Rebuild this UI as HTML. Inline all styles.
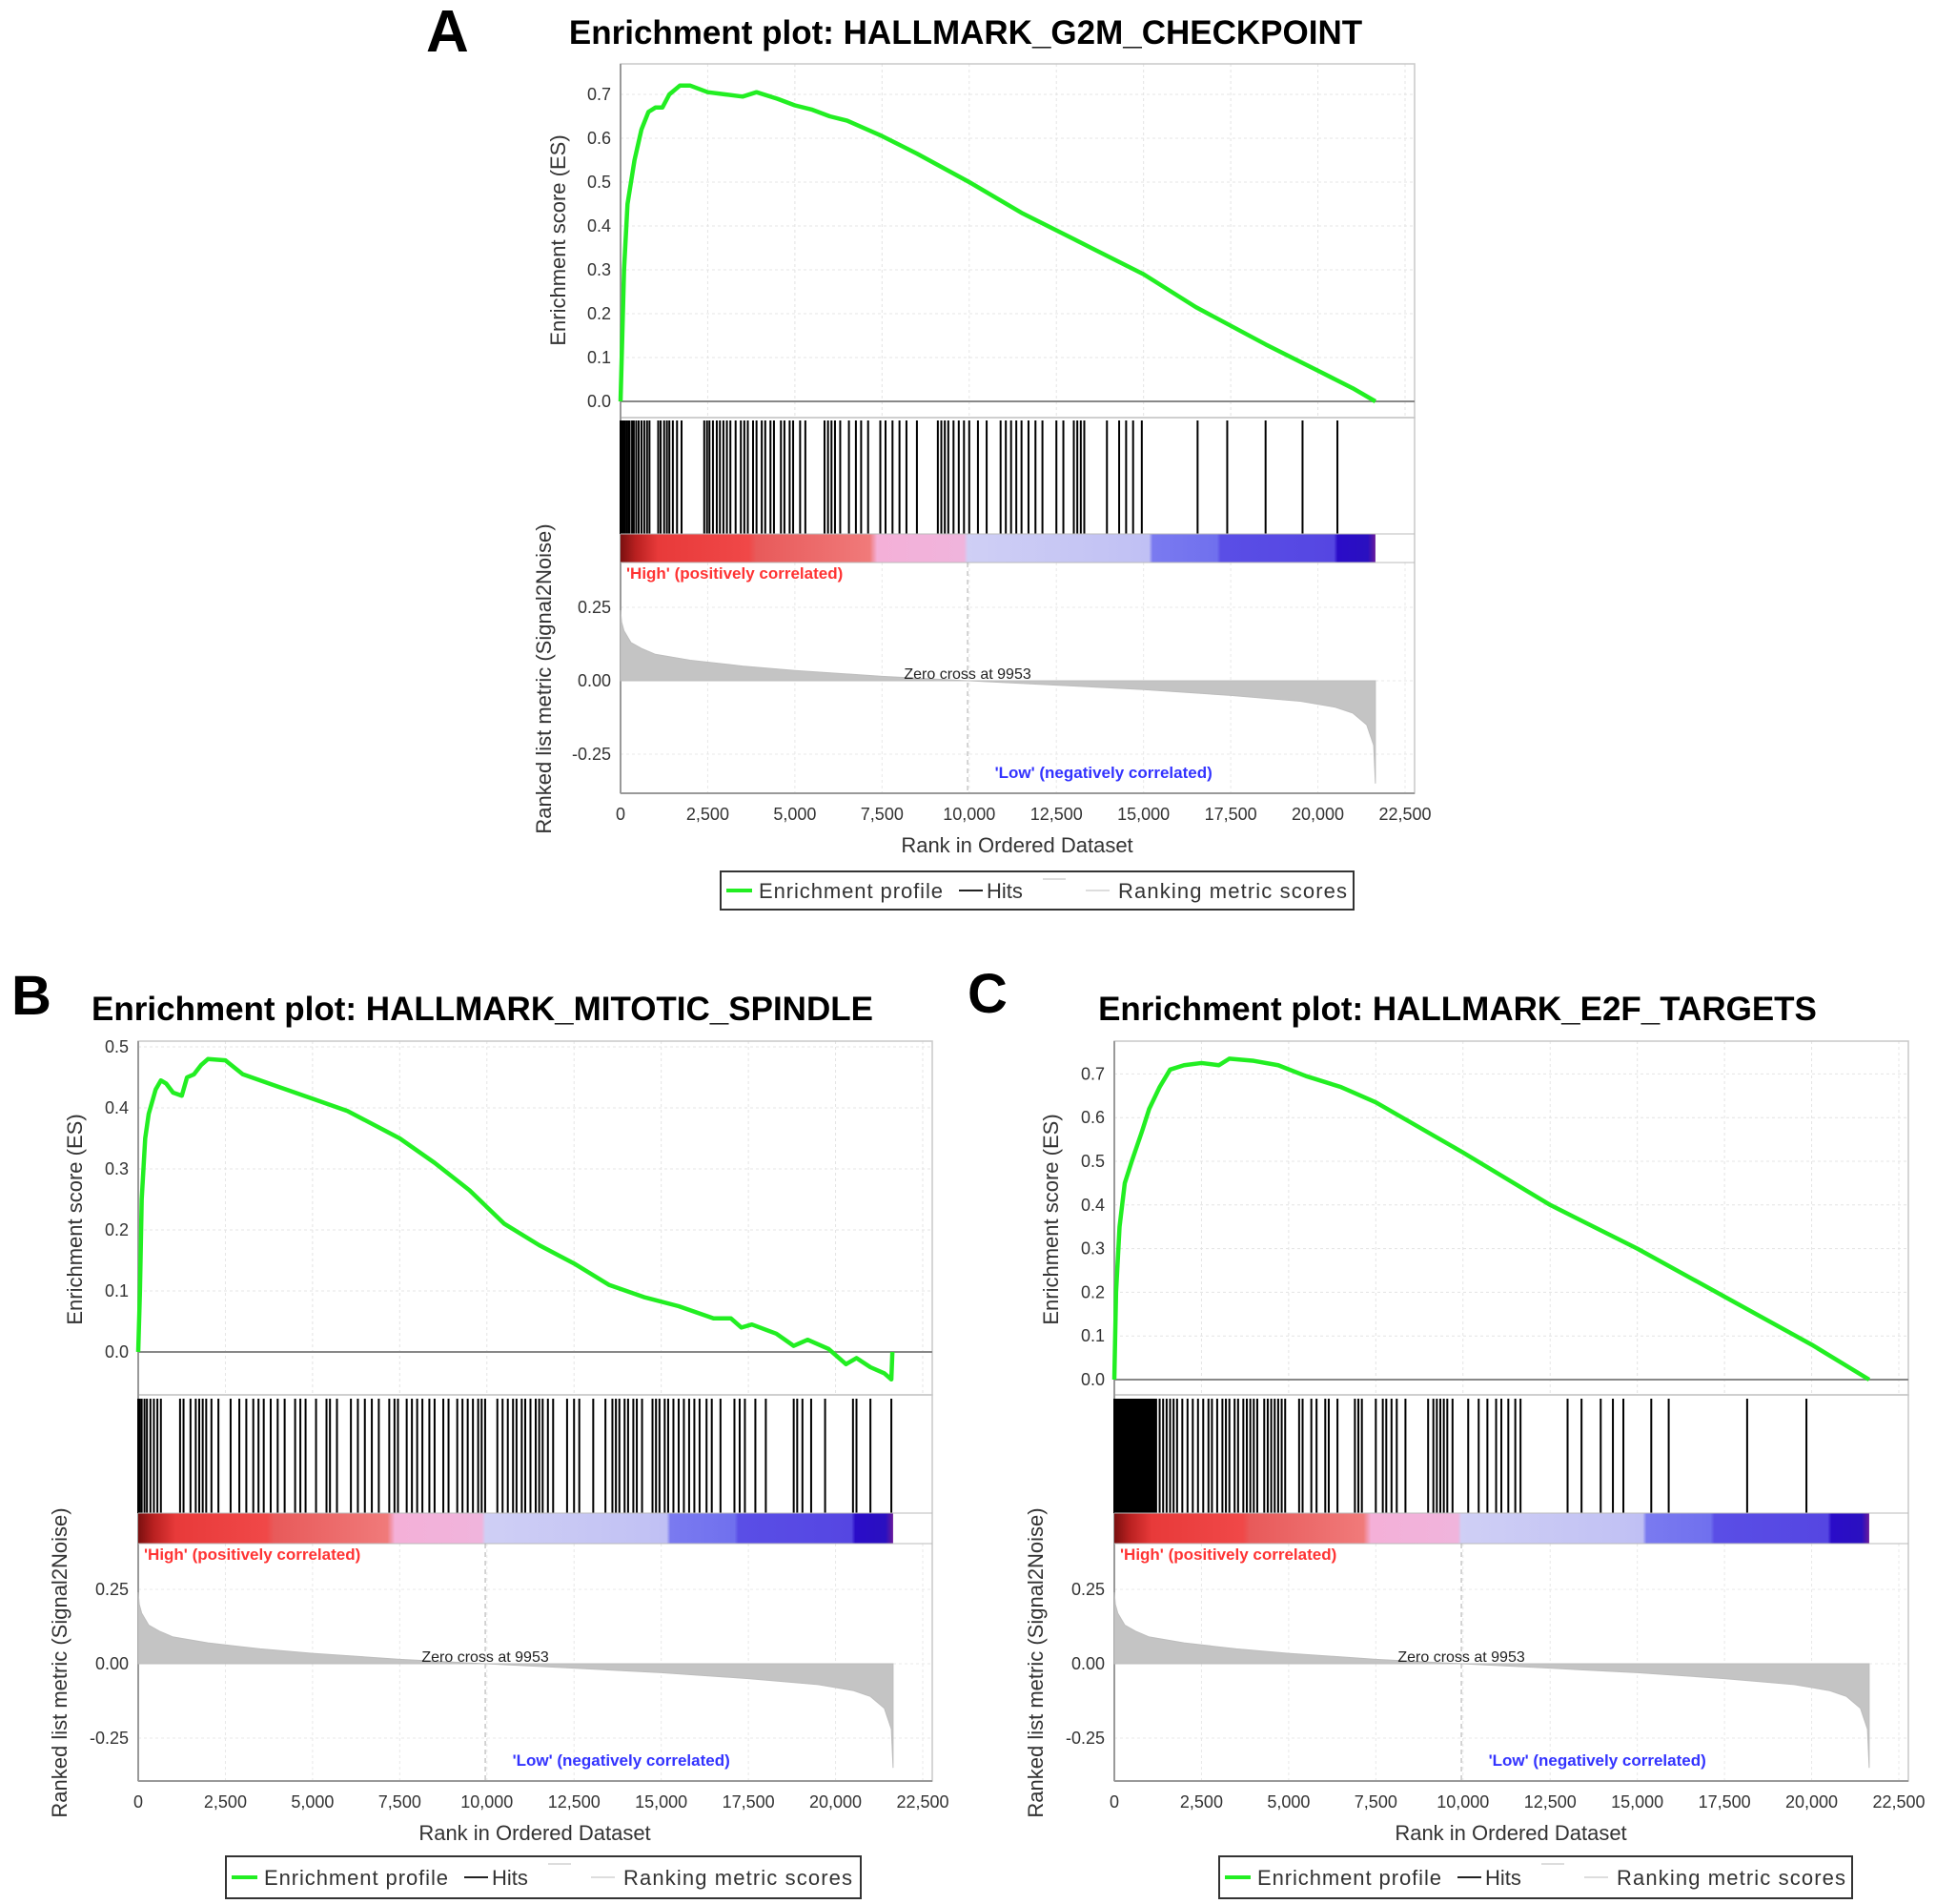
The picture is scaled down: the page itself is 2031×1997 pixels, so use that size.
<!DOCTYPE html>
<html><head><meta charset="utf-8"><style>
html,body{margin:0;padding:0;background:#fff;}
svg{display:block;font-family:"Liberation Sans",Arial,sans-serif;}
</style></head><body>
<svg id="fig" width="2031" height="1997" viewBox="0 0 2031 1997" xmlns="http://www.w3.org/2000/svg">
<defs>
<linearGradient id="rb" x1="0" x2="1" y1="0" y2="0">
<stop offset="0" stop-color="#7a1010"/><stop offset="0.02" stop-color="#b82020"/><stop offset="0.05" stop-color="#e83a3a"/>
<stop offset="0.17" stop-color="#f04848"/><stop offset="0.18" stop-color="#e85a5a"/><stop offset="0.33" stop-color="#f07a7a"/>
<stop offset="0.34" stop-color="#f4b0d8"/><stop offset="0.455" stop-color="#f0b4dc"/><stop offset="0.46" stop-color="#cfcff5"/>
<stop offset="0.70" stop-color="#c0c0f4"/><stop offset="0.705" stop-color="#7a7af0"/><stop offset="0.79" stop-color="#7070ee"/>
<stop offset="0.795" stop-color="#5a4ee6"/><stop offset="0.945" stop-color="#5546e2"/><stop offset="0.95" stop-color="#2a0cc8"/>
<stop offset="0.99" stop-color="#2a10c0"/><stop offset="1" stop-color="#6a1a9a"/>
</linearGradient>
</defs>
</svg>
<script>
// ---------- data ----------
const xTicks = [0,2500,5000,7500,10000,12500,15000,17500,20000,22500];
const xTickLabels = ["0","2,500","5,000","7,500","10,000","12,500","15,000","17,500","20,000","22,500"];
const metricTicks = [0.25,0,-0.25];
const metricTickLabels = ["0.25","0.00","-0.25"];
const esTicksA = [0,0.1,0.2,0.3,0.4,0.5,0.6,0.7];
const esTicksB = [0,0.1,0.2,0.3,0.4,0.5];
const esTicksC = [0,0.1,0.2,0.3,0.4,0.5,0.6,0.7];
const totalRanks = 21650;
const zeroCross = 9953;
const metricRanks = [0,30,100,300,600,1000,2000,3500,5000,7500,9953,12500,15000,17500,19500,20500,21000,21400,21600,21650];
const metricValues = [0.24,0.2,0.17,0.13,0.11,0.09,0.07,0.05,0.035,0.015,0,-0.015,-0.03,-0.05,-0.07,-0.09,-0.11,-0.15,-0.22,-0.35];

const esRanksA = [0,50,100,200,400,600,800,1000,1200,1400,1700,2000,2500,3000,3500,3900,4500,5000,5500,6000,6500,7500,8500,10000,11500,13000,15000,16500,18500,20000,20500,21000,21650];
const esValuesA = [0,0.15,0.3,0.45,0.55,0.62,0.66,0.67,0.67,0.7,0.72,0.72,0.705,0.7,0.695,0.705,0.69,0.675,0.665,0.65,0.64,0.605,0.565,0.5,0.43,0.37,0.29,0.215,0.13,0.07,0.05,0.03,0];
const esRanksB = [0,50,100,200,300,500,650,800,1000,1250,1400,1600,1800,2000,2500,3000,4000,5000,6000,7000,7500,8500,9500,10500,11500,12500,13500,14500,15500,16500,17000,17300,17600,18300,18800,19200,19800,20300,20600,21000,21400,21600,21630];
const esValuesB = [0,0.1,0.25,0.35,0.39,0.43,0.445,0.44,0.425,0.42,0.45,0.455,0.47,0.48,0.478,0.455,0.435,0.415,0.395,0.365,0.35,0.31,0.265,0.21,0.175,0.145,0.11,0.09,0.075,0.055,0.055,0.04,0.045,0.03,0.01,0.02,0.005,-0.02,-0.01,-0.025,-0.035,-0.045,0];
const esRanksC = [0,50,150,300,500,800,1000,1300,1600,2000,2500,3000,3300,4000,4700,5500,6500,7500,10000,12500,15000,17500,20000,21650];
const esValuesC = [0,0.2,0.35,0.45,0.5,0.57,0.62,0.67,0.71,0.72,0.725,0.72,0.735,0.73,0.72,0.695,0.67,0.635,0.52,0.4,0.3,0.19,0.08,0];

const hitsA = [0,40,80,120,170,220,260,330,380,450,520,600,680,760,830,1080,1150,1250,1330,1400,1500,1620,1750,2400,2480,2550,2650,2760,2850,2950,3050,3150,3300,3450,3550,3650,3800,3900,4050,4150,4300,4400,4600,4700,4850,4950,5150,5300,5850,5950,6050,6150,6300,6550,6750,6900,7100,7450,7600,7800,8000,8200,8500,9100,9200,9300,9400,9550,9700,9850,10000,10250,10500,10900,11050,11200,11350,11500,11700,11900,12100,12500,12700,13000,13100,13200,13300,13950,14300,14500,14700,14950,16550,17400,18500,19560,20560];
const hitsB = [0,50,100,180,250,350,450,550,650,1200,1300,1500,1650,1750,1850,1950,2100,2300,2650,2900,3100,3300,3450,3600,3800,4000,4200,4500,4650,4800,5100,5400,5500,5700,6100,6300,6500,6700,6900,7200,7350,7450,7700,7850,8000,8150,8350,8500,8750,8900,9150,9300,9450,9600,9750,9850,9950,10300,10450,10600,10750,10850,11000,11100,11250,11400,11500,11600,11750,11900,12300,12500,12650,13050,13400,13600,13700,13800,13950,14050,14200,14300,14450,14750,14850,14950,15100,15200,15350,15500,15650,15800,15950,16100,16300,16450,16700,17100,17250,17400,17700,18000,18800,18900,19050,19300,19700,20500,20600,21000,21600];
const hitsC = [0,40,80,120,160,200,240,280,320,360,400,440,480,520,560,600,640,680,720,760,800,840,880,920,960,1000,1040,1080,1120,1160,1200,1300,1400,1500,1600,1700,1800,1950,2100,2250,2400,2550,2700,2800,2950,3100,3200,3300,3450,3550,3700,3800,3900,4000,4100,4300,4400,4500,4600,4700,4800,4900,5300,5400,5650,5800,6050,6150,6400,6900,7000,7100,7500,7700,7800,7950,8100,8350,9000,9150,9250,9350,9450,9550,9700,10150,10450,10700,10950,11100,11300,11500,11650,13000,13400,13950,14300,14600,15400,15900,18150,19850];

// ---------- layout ----------
const panels = [
 {id:"a", letter:"A", lx:447, ly:54, lsize:62, title:"Enrichment plot: HALLMARK_G2M_CHECKPOINT", tx:1013, ty:46,
  L:651, T:67, W:833, esZero:421, esPer:460, esBot:438, hitsTop:441, colTop:560, colBot:590, mZero:714, mPer:308, bot:832,
  esTicks:esTicksA, esR:esRanksA, esV:esValuesA, hits:hitsA, esTitleX:585, esTitleY:252, mTitleX:570, mTitleY:712, lg:[756,914,664,40]},
 {id:"b", letter:"B", lx:12, ly:1064, lsize:58, title:"Enrichment plot: HALLMARK_MITOTIC_SPINDLE", tx:506, ty:1070,
  L:145, T:1092, W:833, esZero:1418, esPer:640, esBot:1463, hitsTop:1467, colTop:1587, colBot:1619, mZero:1745, mPer:312, bot:1868,
  esTicks:esTicksB, esR:esRanksB, esV:esValuesB, hits:hitsB, esTitleX:78, esTitleY:1279, mTitleX:62, mTitleY:1744, lg:[237,1947,666,44]},
 {id:"c", letter:"C", lx:1015, ly:1062, lsize:58, title:"Enrichment plot: HALLMARK_E2F_TARGETS", tx:1529, ty:1070,
  L:1169, T:1092, W:833, esZero:1447, esPer:458, esBot:1463, hitsTop:1467, colTop:1587, colBot:1619, mZero:1745, mPer:312, bot:1868,
  esTicks:esTicksC, esR:esRanksC, esV:esValuesC, hits:hitsC, esTitleX:1102, esTitleY:1279, mTitleX:1086, mTitleY:1744, lg:[1279,1947,664,44]}
];
const NS = "http://www.w3.org/2000/svg";
const svg = document.getElementById("fig");
function mk(tag, attrs, parent, text){
  const e = document.createElementNS(NS, tag);
  for (const k in attrs) e.setAttribute(k, attrs[k]);
  if (text !== undefined) e.textContent = text;
  parent.appendChild(e); return e;
}
panels.forEach(p => {
  const g = mk("g", {}, svg);
  
  
  const xs = r => p.L + r * 823 / 22500;
  const ys = v => p.esZero - v * p.esPer;
  const ym = v => p.mZero - v * p.mPer;

  const let_ = mk("text", {x:p.lx, y:p.ly, "font-size":p.lsize, "font-weight":"bold"}, g, p.letter);
  
  
  const tt = mk("text", {x:p.tx, y:p.ty, "font-size":35, "font-weight":"bold", "text-anchor":"middle"}, g, p.title);
  
  

  // grid
  xTicks.forEach(t => {
    const l = mk("line", {x1:xs(t), x2:xs(t), y1:p.T, y2:p.esBot, stroke:"#e4e4e4", "stroke-dasharray":"3,3"}, g);
    
    
    const l2 = mk("line", {x1:xs(t), x2:xs(t), y1:p.colBot, y2:p.bot, stroke:"#e8e8e8", "stroke-dasharray":"3,3"}, g);
    
    
  });
  p.esTicks.forEach(t => {
    const l = mk("line", {x1:p.L, x2:p.L+p.W, y1:ys(t), y2:ys(t), stroke:"#e4e4e4", "stroke-dasharray":"3,3"}, g);
    
    
    const tl = mk("text", {x:p.L-10, y:ys(t)+6, "font-size":18, "text-anchor":"end", fill:"#333"}, g, t.toFixed(1));
    
    
  });
  metricTicks.forEach((t,i) => {
    const l = mk("line", {x1:p.L, x2:p.L+p.W, y1:ym(t), y2:ym(t), stroke:"#e8e8e8", "stroke-dasharray":"3,3"}, g);
    
    
    const tl = mk("text", {x:p.L-10, y:ym(t)+6, "font-size":18, "text-anchor":"end", fill:"#333"}, g, metricTickLabels[i]);
    
    
  });
  // frames
  const f1 = mk("rect", {x:p.L, y:p.T, width:p.W, height:p.esBot-p.T, fill:"none", stroke:"#c8c8c8", "stroke-width":1.5}, g);
  
  
  const f2 = mk("rect", {x:p.L, y:p.esBot, width:p.W, height:p.bot-p.esBot, fill:"none", stroke:"#c8c8c8", "stroke-width":1.5}, g);
  
  
  const ax = mk("line", {x1:p.L, x2:p.L, y1:p.T, y2:p.bot, stroke:"#999", "stroke-width":2}, g);
  
  
  const ax2 = mk("line", {x1:p.L, x2:p.L+p.W, y1:p.bot, y2:p.bot, stroke:"#999", "stroke-width":2}, g);
  
  
  const z = mk("line", {x1:p.L, x2:p.L+p.W, y1:ys(0), y2:ys(0), stroke:"#888", "stroke-width":2}, g);
  
  

  // hits
  p.hits.forEach(r => {
    const h = mk("line", {x1:xs(r), x2:xs(r), y1:p.hitsTop, y2:p.colTop, stroke:"#000", "stroke-width":2}, g);
    
    
  });
  // colour bar
  const cb = mk("rect", {x:xs(0), y:p.colTop, width:xs(totalRanks)-xs(0), height:p.colBot-p.colTop, fill:"url(#rb)"}, g);
  
  
  mk("line", {x1:p.L, x2:p.L+p.W, y1:p.colTop, y2:p.colTop, stroke:"#bbb"}, g);
  mk("line", {x1:p.L, x2:p.L+p.W, y1:p.colBot, y2:p.colBot, stroke:"#bbb"}, g);

  const hi = mk("text", {x:p.L+6, y:p.colBot+17, "font-size":17, "font-weight":"bold", fill:"#ff3333"}, g, "'High' (positively correlated)");
  
  

  // metric area
  let d = "M" + xs(metricRanks[0]) + "," + ym(0);
  metricRanks.forEach((r,i) => { d += " L" + xs(r) + "," + ym(metricValues[i]); });
  d += " L" + xs(metricRanks[metricRanks.length-1]) + "," + ym(0) + " Z";
  const ma = mk("path", {d:d, fill:"#c4c4c4", stroke:"#bdbdbd", "stroke-width":1}, g);
  
  
  const zc = mk("line", {x1:xs(zeroCross), x2:xs(zeroCross), y1:p.colBot, y2:p.bot, stroke:"#aaa", "stroke-dasharray":"5,4"}, g);
  
  
  const zt = mk("text", {x:xs(zeroCross), y:ym(0)-2, "font-size":16, "text-anchor":"middle", fill:"#222"}, g, "Zero cross at " + zeroCross);
  
  
  const lo = mk("text", {x:xs(15000)-42, y:p.bot-16, "font-size":17, "font-weight":"bold", fill:"#3333ff", "text-anchor":"middle"}, g, "'Low' (negatively correlated)");
  
  

  // ES curve
  let pts = p.esR.map((r,i) => xs(r) + "," + ys(p.esV[i])).join(" ");
  const es = mk("polyline", {points:pts, fill:"none", stroke:"#22ee22", "stroke-width":4.5, "stroke-linejoin":"round"}, g);
  
  

  // x ticks
  xTicks.forEach((t,i) => {
    const tl = mk("text", {x:xs(t), y:p.bot+28, "font-size":18, "text-anchor":"middle", fill:"#333"}, g, xTickLabels[i]);
    
    
  });
  const xt = mk("text", {x:p.L+416, y:p.bot+62, "font-size":22, "text-anchor":"middle", fill:"#333"}, g, "Rank in Ordered Dataset");
  
  
  const et = mk("text", {x:0, y:0, "font-size":22, "text-anchor":"middle", fill:"#333", transform:"translate("+(p.esTitleX+8)+","+p.esTitleY+") rotate(-90)"}, g, "Enrichment score (ES)");
  
  
  const mt = mk("text", {x:0, y:0, "font-size":22, "text-anchor":"middle", fill:"#333", transform:"translate("+(p.mTitleX+8)+","+p.mTitleY+") rotate(-90)"}, g, "Ranked list metric (Signal2Noise)");
  
  

  // legend
  const [lx,ly,lw,lh] = p.lg;
  const lgG = mk("g", {}, g);
  
  
  mk("rect", {x:lx, y:ly, width:lw, height:lh, fill:"#fff", stroke:"#333", "stroke-width":2}, lgG);
  const cy = ly + lh/2;
  const e1 = mk("line", {x1:lx+6, x2:lx+33, y1:cy, y2:cy, stroke:"#22ee22", "stroke-width":4}, lgG);
  
  const t1 = mk("text", {x:lx+40, y:cy+8, "font-size":22, fill:"#333", textLength:193}, lgG, "Enrichment profile");
  
  
  mk("line", {x1:lx+250, x2:lx+275, y1:cy, y2:cy, stroke:"#222", "stroke-width":2}, lgG);
  const t2 = mk("text", {x:lx+279, y:cy+8, "font-size":22, fill:"#333"}, lgG, "Hits");
  
  
  mk("line", {x1:lx+338, x2:lx+362, y1:ly+8, y2:ly+8, stroke:"#ddd", "stroke-width":2}, lgG);
  mk("line", {x1:lx+383, x2:lx+408, y1:cy, y2:cy, stroke:"#ddd", "stroke-width":2}, lgG);
  const t3 = mk("text", {x:lx+417, y:cy+8, "font-size":22, fill:"#333", textLength:240}, lgG, "Ranking metric scores");
  
  
});
</script>
</body></html>
